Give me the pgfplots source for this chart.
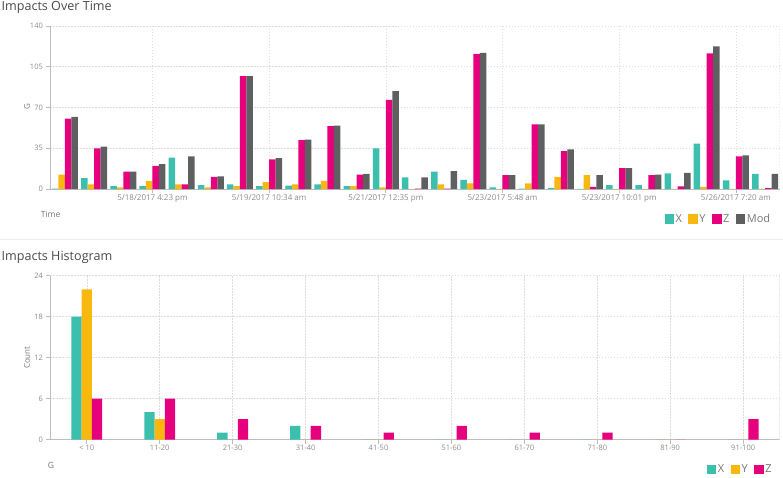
\documentclass[border=0pt]{standalone}
\usepackage{fontspec}
\setmainfont{Open Sans}
\usepackage{pgfplots}
\pgfplotsset{compat=1.18}
\definecolor{cX}{HTML}{3DBFAE}
\definecolor{cY}{HTML}{F9B80F}
\definecolor{cZ}{HTML}{E6007E}
\definecolor{cM}{HTML}{5E5F61}
\definecolor{titlec}{HTML}{4A4A4A}
\definecolor{labc}{HTML}{777777}
\definecolor{tickc}{HTML}{8A8A8A}
\definecolor{axc}{HTML}{BDBDBD}
\definecolor{gridc}{HTML}{DDDDDD}
\definecolor{sepc}{HTML}{EEEEEE}

\pgfplotsset{
  common/.style={
    scale only axis,
    axis x line*=bottom,
    axis y line*=left,
    axis line style={axc, line width=0.9pt},
    tick align=outside,
    major tick length=4pt,
    tick style={axc, line width=0.7pt},
    grid=major,
    grid style={gridc, dash pattern=on 1.5pt off 1.5pt, line width=0.5pt},
    ymin=0,
    /pgf/number format/assume math mode=true,
    ticklabel style={text=tickc},
    yticklabel style={font=\fontsize{7.5}{9}\selectfont},
    xticklabel style={yshift=2pt},
    ybar=0pt,
    legend image code/.code={\fill[##1] (0pt,-4.7pt) rectangle (9.5pt,4.7pt);},
    legend style={draw=none, fill=none, legend columns=-1, inner sep=0pt,
      font=\fontsize{11}{13}\selectfont, text=labc,
      /tikz/every even column/.append style={column sep=4.5pt},
      /tikz/every odd column/.append style={column sep=-0.5pt}},
  }
}

\pgfplotstableread{
i X Y Z M
0 0.5 12.5 60.5 62
1 9.5 4 35 36.5
2 2.5 1.5 15 15
3 2.5 7 20 21.5
4 27 4 4 28
5 3.5 1.5 10.5 11
6 4 2.5 97 97
7 2.5 6 25.5 26.5
8 3 4 42 42.5
9 4 7 54 54.5
10 2.5 2.5 12.5 13
11 35 1.5 76.5 84
12 10 0.3 0.5 10
13 15 4 0.5 15.5
14 8 5 116 117
15 1.5 0.3 12 12
16 0.5 5 55.5 55.5
17 1 10.5 32.5 34
18 0.3 12 2 12
19 3.5 0.3 18 18
20 3.5 0.3 12 12.5
21 13.5 0.3 2.3 14
22 39 2 116.5 122.5
23 7.5 0.3 28 29
24 13 0.3 0.8 13
}\timedata

\pgfplotstableread{
i X Y Z
0 18 22 6
1 4 3 6
2 1 0 3
3 2 0 2
4 0 0 1
5 0 0 2
6 0 0 1
7 0 0 1
8 0 0 0
9 0 0 3
}\histdata

\begin{document}
\begin{tikzpicture}
\path (0pt,0pt) rectangle (783pt,478pt);
\node[anchor=base west, inner sep=0, text=titlec, font=\fontsize{12.6}{14}\selectfont] at (1pt,467.3pt) {Impacts Over Time};
\node[anchor=base west, inner sep=0, text=titlec, font=\fontsize{12.6}{14}\selectfont] at (1pt,217pt) {Impacts Histogram};
\draw[sepc, line width=0.8pt] (0pt,238.5pt) -- (783pt,238.5pt);
\node[rotate=90, text=labc, font=\fontsize{8}{10}\selectfont] at (26.7pt,371pt) {G};
\node[rotate=90, text=labc, font=\fontsize{8}{10}\selectfont] at (26.7pt,120pt) {Count};
\node[text=labc, font=\fontsize{8.5}{10}\selectfont] at (50.3pt,263pt) {Time};
\node[text=labc, font=\fontsize{8.5}{10}\selectfont] at (50.5pt,12.3pt) {G};

\begin{axis}[common,
  at={(50pt,288.7pt)}, anchor=south west,
  width=730pt, height=163.3pt,
  xmin=-0.5, xmax=24.5,
  ymax=140, ytick={0,35,70,105,140},
  bar width=6.5pt,
  xtick={3,7,11,15,19,23},
  xticklabels={5/18/2017 4:23 pm,5/19/2017 10:34 am,5/21/2017 12:35 pm,5/23/2017 5:48 am,5/23/2017 10:01 pm,5/26/2017 7:20 am},
  xticklabel style={font=\fontsize{8}{10}\selectfont},
  legend style={at={(0.990,-0.184)}, anchor=east},
]
\addplot[fill=cX, draw=none] table[x=i, y=X] {\timedata};
\addplot[fill=cY, draw=none] table[x=i, y=Y] {\timedata};
\addplot[fill=cZ, draw=none] table[x=i, y=Z] {\timedata};
\addplot[fill=cM, draw=none] table[x=i, y=M] {\timedata};
\legend{X,Y,Z,Mod}
\draw[gridc, dash pattern=on 1.5pt off 1.5pt, line width=0.5pt] (rel axis cs:1,0) -- (rel axis cs:1,1);
\end{axis}

\begin{axis}[common,
  at={(50pt,38pt)}, anchor=south west,
  width=730pt, height=164pt,
  xmin=-0.5, xmax=9.5,
  ymax=24, ytick={0,6,12,18,24},
  bar width=10.3pt,
  xtick={0,...,9},
  xticklabels={< 10,11-20,21-30,31-40,41-50,51-60,61-70,71-80,81-90,91-100},
  xticklabel style={font=\fontsize{7.5}{9}\selectfont},
  legend style={at={(0.992,-0.183)}, anchor=east},
]
\addplot[fill=cX, draw=none] table[x=i, y=X] {\histdata};
\addplot[fill=cY, draw=none] table[x=i, y=Y] {\histdata};
\addplot[fill=cZ, draw=none] table[x=i, y=Z] {\histdata};
\legend{X,Y,Z}
\draw[gridc, dash pattern=on 1.5pt off 1.5pt, line width=0.5pt] (rel axis cs:1,0) -- (rel axis cs:1,1);
\end{axis}
\end{tikzpicture}
\end{document}
